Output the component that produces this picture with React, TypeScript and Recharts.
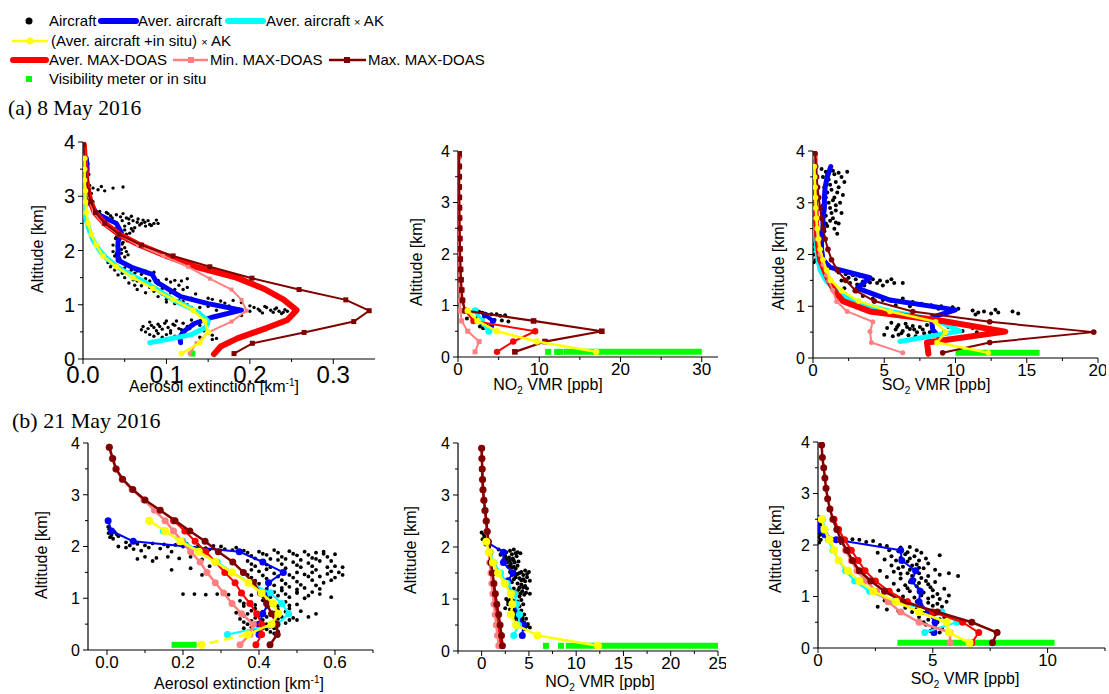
import React from 'react';
import { ScatterChart, Scatter, XAxis, YAxis } from 'recharts';

type Pt = [number, number];

const SANS = '"Liberation Sans", Arial, sans-serif';
const SERIF = '"Liberation Serif", "Times New Roman", serif';

const BLUE = '#0000FF';
const CYAN = '#00FFFF';
const YELLOW = '#FFFF00';
const RED = '#FF0000';
const PINK = '#FF8080';
const DARKRED = '#800000';
const GREEN = '#00FF00';

const Y_TICKS = [0, 0.5, 1, 1.5, 2, 2.5, 3, 3.5, 4];
const Y_MAJOR = [0, 1, 2, 3, 4];

// ---------- (a) 8 May 2016 : aerosol ----------
const a1Aircraft: Pt[] = [
  [0.004, 3.65], [0.006, 3.6], [0.005, 3.5], [0.007, 3.4], [0.005, 3.3], [0.008, 3.2], [0.012, 3.15], [0.018, 3.12],
  [0.022, 3.18], [0.026, 3.1], [0.036, 3.15], [0.048, 3.17], [0.01, 3.05], [0.006, 2.95], [0.012, 2.9], [0.008, 2.85],
  [0.02, 2.72], [0.03, 2.68], [0.04, 2.66], [0.035, 2.6], [0.045, 2.62], [0.055, 2.58], [0.06, 2.55], [0.065, 2.52],
  [0.07, 2.5], [0.075, 2.45], [0.08, 2.48], [0.085, 2.5], [0.05, 2.45], [0.058, 2.4], [0.045, 2.35], [0.052, 2.3],
  [0.062, 2.42], [0.072, 2.56], [0.025, 2.55], [0.04, 2.5], [0.04, 2.25], [0.044, 2.2], [0.048, 2.15], [0.036, 2.1],
  [0.05, 2.05], [0.042, 2.0], [0.046, 1.95], [0.038, 1.9], [0.05, 1.88], [0.045, 1.82], [0.03, 1.78], [0.035, 1.74],
  [0.04, 1.7], [0.046, 1.66], [0.055, 1.6], [0.065, 1.62], [0.07, 1.56], [0.078, 1.58], [0.042, 1.55], [0.05, 1.5],
  [0.06, 1.46], [0.08, 1.44], [0.1, 1.47], [0.11, 1.45], [0.125, 1.48], [0.055, 1.4], [0.07, 1.35], [0.09, 1.38],
  [0.1, 1.32], [0.115, 1.36], [0.065, 1.28], [0.085, 1.25], [0.105, 1.22], [0.12, 1.28], [0.135, 1.2], [0.09, 1.15],
  [0.1, 1.1], [0.115, 1.08], [0.13, 1.12], [0.145, 1.05], [0.155, 1.1], [0.16, 1.0], [0.17, 1.03], [0.18, 1.08],
  [0.125, 1.0], [0.14, 0.95], [0.2, 0.98], [0.21, 0.92], [0.22, 0.95], [0.225, 0.9], [0.235, 0.88], [0.24, 0.86],
  [0.215, 0.85], [0.2, 0.88], [0.16, 0.9], [0.19, 0.8], [0.23, 0.92], [0.08, 0.68], [0.09, 0.64], [0.1, 0.7],
  [0.11, 0.62], [0.12, 0.66], [0.13, 0.72], [0.085, 0.58], [0.095, 0.55], [0.105, 0.52], [0.115, 0.56], [0.125, 0.6],
  [0.07, 0.54], [0.075, 0.5], [0.09, 0.47], [0.1, 0.45], [0.12, 0.42], [0.135, 0.48], [0.145, 0.52], [0.155, 0.44],
  [0.16, 0.38], [0.14, 0.62], [0.15, 0.65],
  [0.028, 2.7], [0.033, 2.64], [0.048, 2.68], [0.052, 2.6], [0.058, 2.63], [0.066, 2.58], [0.074, 2.52], [0.082, 2.46],
  [0.068, 2.47], [0.055, 2.5], [0.047, 2.55], [0.038, 2.4], [0.042, 2.43], [0.06, 2.36], [0.05, 2.38], [0.056, 2.32],
  [0.048, 2.28], [0.078, 2.55], [0.088, 2.56], [0.09, 2.5], [0.039, 2.22], [0.047, 2.12], [0.053, 2.18], [0.041, 2.08],
  [0.046, 2.02], [0.052, 1.98], [0.04, 1.94], [0.044, 1.86], [0.054, 1.92], [0.036, 1.98], [0.033, 1.7], [0.038, 1.64],
  [0.05, 1.68], [0.058, 1.64], [0.062, 1.58], [0.075, 1.62], [0.085, 1.6], [0.047, 1.58], [0.065, 1.44], [0.075, 1.48],
  [0.09, 1.45], [0.105, 1.42], [0.118, 1.44], [0.062, 1.36], [0.08, 1.32], [0.095, 1.3], [0.11, 1.28], [0.125, 1.32],
  [0.075, 1.22], [0.095, 1.2], [0.115, 1.18], [0.1, 1.05], [0.11, 1.02], [0.12, 1.06], [0.135, 1.08], [0.15, 1.12],
  [0.165, 1.07], [0.175, 0.98], [0.19, 1.04], [0.13, 0.95], [0.15, 0.97], [0.205, 0.95], [0.212, 0.89], [0.218, 0.97],
  [0.228, 0.86], [0.232, 0.94], [0.242, 0.91], [0.245, 0.88], [0.238, 0.84], [0.082, 0.62], [0.088, 0.52], [0.092, 0.6],
  [0.098, 0.66], [0.102, 0.58], [0.108, 0.64], [0.112, 0.7], [0.118, 0.54], [0.122, 0.5], [0.128, 0.56], [0.132, 0.62],
  [0.08, 0.45], [0.085, 0.42], [0.095, 0.4], [0.105, 0.48], [0.11, 0.42], [0.13, 0.45], [0.14, 0.4], [0.15, 0.48],
  [0.155, 0.36], [0.072, 0.6], [0.078, 0.56],
];
const a1Blue: Pt[] = [
  [0.004, 3.7], [0.005, 3.5], [0.004, 3.3], [0.006, 3.1], [0.008, 2.9], [0.016, 2.68], [0.04, 2.5], [0.046, 2.33],
  [0.042, 2.16], [0.042, 1.82], [0.06, 1.68], [0.083, 1.56], [0.088, 1.42], [0.117, 1.15], [0.15, 1.02], [0.19, 0.9],
  [0.155, 0.77], [0.133, 0.65], [0.12, 0.5], [0.116, 0.4], [0.117, 0.3],
];
const a1Cyan: Pt[] = [
  [0.003, 3.7], [0.003, 3.3], [0.003, 2.9], [0.002, 2.75], [0.004, 2.55], [0.008, 2.35], [0.012, 2.19], [0.02, 2.0],
  [0.028, 1.86], [0.044, 1.67], [0.06, 1.53], [0.076, 1.4], [0.092, 1.25], [0.108, 1.09], [0.125, 0.97], [0.138, 0.86],
  [0.15, 0.7], [0.147, 0.58], [0.13, 0.45], [0.1, 0.36], [0.08, 0.3],
];
const a1Yellow: Pt[] = [
  [0.002, 3.7], [0.002, 3.5], [0.002, 3.3], [0.003, 3.1], [0.003, 2.9], [0.004, 2.7], [0.006, 2.5], [0.01, 2.3],
  [0.016, 2.1], [0.024, 1.9], [0.04, 1.7], [0.06, 1.5], [0.084, 1.3], [0.108, 1.1], [0.132, 0.9], [0.146, 0.7],
  [0.15, 0.5], [0.14, 0.3], [0.118, 0.1],
];
const a1Red: Pt[] = [
  [0.001, 3.95], [0.002, 3.7], [0.003, 3.5], [0.004, 3.3], [0.006, 3.1], [0.009, 2.9], [0.014, 2.7], [0.026, 2.5],
  [0.043, 2.3], [0.068, 2.1], [0.1, 1.9], [0.135, 1.7], [0.184, 1.5], [0.216, 1.3], [0.24, 1.1], [0.256, 0.9],
  [0.245, 0.72], [0.22, 0.57], [0.185, 0.38], [0.165, 0.23], [0.157, 0.09],
];
const a1Pink: Pt[] = [
  [0.001, 3.95], [0.002, 3.7], [0.003, 3.5], [0.004, 3.3], [0.005, 3.1], [0.008, 2.9], [0.013, 2.7], [0.024, 2.5],
  [0.042, 2.3], [0.066, 2.1], [0.096, 1.9], [0.126, 1.7], [0.152, 1.48], [0.178, 1.28], [0.19, 1.09], [0.196, 0.89],
  [0.178, 0.69], [0.15, 0.49], [0.136, 0.29], [0.128, 0.1],
];
const a1DarkRed: Pt[] = [
  [0.0005, 3.95], [0.002, 3.7], [0.003, 3.5], [0.004, 3.3], [0.006, 3.1], [0.009, 2.9], [0.015, 2.7], [0.026, 2.5],
  [0.043, 2.3], [0.07, 2.1], [0.108, 1.9], [0.152, 1.7], [0.2025, 1.49], [0.259, 1.28], [0.315, 1.09], [0.343, 0.89],
  [0.3245, 0.69], [0.265, 0.49], [0.203, 0.29], [0.181, 0.1],
];
const a1Green: Pt[] = [[0.131, 0.1]];

// ---------- (a) NO2 ----------
const a2Aircraft: Pt[] = [
  [2.3, 0.91], [2.6, 0.88], [3.0, 0.86], [3.4, 0.84], [4.1, 0.83], [4.75, 0.83], [5.2, 0.8], [5.8, 0.81], [1.1, 0.75],
  [1.9, 0.72], [2.4, 0.76], [3.2, 0.78], [4.5, 0.72], [5.4, 0.71], [6.2, 0.69], [2.7, 0.59], [3.1, 0.56], [3.9, 0.52],
  [3.5, 0.62], [4.2, 0.6], [2.9, 0.66],
];
const a2Blue: Pt[] = [[3.3, 0.82], [4.3, 0.7], [4.0, 0.58]];
const a2Cyan: Pt[] = [[2.1, 0.9], [2.9, 0.7], [3.8, 0.5]];
const a2Yellow: Pt[] = [[1.2, 0.9], [2.4, 0.7], [4.8, 0.5], [9.7, 0.3], [17.0, 0.1]];
const a2Red: Pt[] = [
  [0.12, 3.9], [0.12, 3.7], [0.12, 3.5], [0.12, 3.3], [0.13, 3.1], [0.14, 2.9], [0.15, 2.7], [0.16, 2.5], [0.18, 2.3],
  [0.2, 2.1], [0.22, 1.9], [0.25, 1.7], [0.3, 1.5], [0.4, 1.3], [0.5, 1.1], [0.9, 0.9], [1.9, 0.7], [9.5, 0.5],
  [6.8, 0.3], [4.8, 0.1],
];
const a2Pink: Pt[] = [
  [0.1, 3.9], [0.1, 3.5], [0.1, 3.1], [0.12, 2.7], [0.14, 2.3], [0.16, 1.9], [0.18, 1.5], [0.2, 1.3], [0.25, 1.1],
  [0.3, 0.9], [0.45, 0.7], [1.2, 0.5], [2.6, 0.3], [2.1, 0.1],
];
const a2DarkRed: Pt[] = [
  [0.15, 3.95], [0.15, 3.7], [0.15, 3.5], [0.15, 3.3], [0.16, 3.1], [0.17, 2.9], [0.18, 2.7], [0.2, 2.5], [0.22, 2.3],
  [0.25, 2.1], [0.28, 1.9], [0.32, 1.7], [0.37, 1.5], [0.45, 1.3], [0.55, 1.1], [0.86, 0.9], [9.3, 0.7], [17.7, 0.5],
  [10.7, 0.3], [7.0, 0.1],
];
const a2GreenDots: Pt[] = [[11.1, 0.1], [12.2, 0.1], [12.6, 0.1]];
const a2GreenBar: Pt[] = [[13.0, 0.1], [30.0, 0.1]];

// ---------- (a) SO2 ----------
const a3Aircraft: Pt[] = [
  [0.6, 3.65], [0.9, 3.6], [1.4, 3.62], [1.8, 3.58], [2.4, 3.6], [0.7, 3.5], [1.1, 3.45], [1.6, 3.4], [2.0, 3.5],
  [0.8, 3.3], [1.3, 3.25], [1.7, 3.2], [2.1, 3.15], [0.9, 3.1], [1.4, 3.05], [1.9, 3.0], [0.7, 2.95], [1.2, 2.9],
  [1.6, 2.85], [2.0, 2.8], [0.9, 2.75], [1.4, 2.7], [1.8, 2.6], [1.0, 2.55], [1.5, 2.5], [0.8, 2.45], [1.7, 2.4],
  [0.1, 2.2], [0.15, 2.1], [0.1, 2.0], [0.2, 1.9], [0.05, 1.85], [1.8, 1.65], [2.3, 1.62], [2.8, 1.6], [3.3, 1.58],
  [3.8, 1.55], [4.2, 1.52], [4.7, 1.5], [5.2, 1.48], [5.7, 1.45], [6.3, 1.45], [2.0, 1.5], [2.6, 1.45], [3.1, 1.42],
  [3.6, 1.4], [4.5, 1.45], [4.9, 1.4], [2.2, 1.35], [2.9, 1.3], [3.5, 1.2], [4.2, 1.15], [4.9, 1.12], [5.5, 1.1],
  [6.3, 1.15], [7.0, 1.08], [7.6, 1.05], [8.3, 1.02], [9.0, 1.0], [9.8, 0.98], [10.2, 0.95], [8.8, 0.95], [6.8, 1.0],
  [5.8, 1.02], [11.2, 0.92], [11.6, 0.88], [12.0, 0.9], [12.5, 0.86], [13.0, 0.88], [14.0, 0.9], [14.4, 0.86],
  [11.4, 0.84], [12.8, 0.93], [5.5, 0.68], [6.0, 0.64], [6.5, 0.66], [7.0, 0.62], [7.5, 0.6], [8.0, 0.64], [8.4, 0.58],
  [5.2, 0.58], [5.8, 0.55], [6.3, 0.52], [6.8, 0.56], [7.3, 0.5], [7.8, 0.48], [5.0, 0.45], [5.6, 0.42], [6.2, 0.48],
  [6.7, 0.44], [7.2, 0.42], [10.2, 0.66], [10.8, 0.62], [11.2, 0.58], [11.7, 0.6], [12.1, 0.55], [10.5, 0.52],
  [11.5, 0.5], [12.3, 0.52], [9.5, 0.6], [9.2, 0.52],
  [1.0, 3.55], [1.5, 3.55], [2.2, 3.4], [1.2, 3.35], [1.8, 3.3], [1.0, 3.2], [1.5, 3.1], [1.1, 3.0], [1.6, 2.95],
  [1.3, 2.8], [1.2, 2.65], [1.6, 2.62], [0.9, 2.6], [2.5, 1.55], [3.0, 1.52], [3.5, 1.48], [4.0, 1.46], [5.5, 1.52],
  [5.9, 0.6], [6.6, 0.6], [7.1, 0.55], [7.7, 0.55], [8.2, 0.5], [6.0, 0.45],
];
const a3Blue: Pt[] = [
  [1.25, 3.7], [1.0, 3.5], [0.85, 3.3], [0.8, 3.1], [0.8, 2.9], [0.7, 2.7], [0.7, 2.5], [0.6, 2.3], [0.6, 2.1],
  [0.7, 1.9], [1.2, 1.75], [4.0, 1.55], [3.1, 1.35], [5.4, 1.12], [10.0, 0.93], [8.3, 0.78], [8.4, 0.55], [9.0, 0.35],
];
const a3Cyan: Pt[] = [
  [0.1, 3.7], [0.12, 3.3], [0.15, 2.9], [0.18, 2.5], [0.25, 2.1], [0.35, 1.9], [0.5, 1.7], [0.9, 1.5], [1.9, 1.22],
  [3.3, 1.05], [5.6, 0.89], [8.7, 0.73], [10.3, 0.52], [6.1, 0.32],
];
const a3Yellow: Pt[] = [
  [0.1, 3.7], [0.12, 3.5], [0.15, 3.3], [0.18, 3.1], [0.2, 2.9], [0.25, 2.7], [0.3, 2.5], [0.4, 2.3], [0.5, 2.1],
  [0.7, 1.9], [0.95, 1.7], [1.25, 1.5], [2.0, 1.3], [3.2, 1.1], [5.4, 0.9], [8.6, 0.7], [9.3, 0.5], [8.7, 0.3],
  [12.3, 0.1],
];
const a3Red: Pt[] = [
  [0.1, 3.95], [0.12, 3.5], [0.15, 3.0], [0.22, 2.6], [0.35, 2.2], [0.5, 1.9], [0.8, 1.7], [1.1, 1.5], [1.5, 1.3],
  [2.1, 1.1], [4.0, 0.9], [9.0, 0.72], [13.5, 0.51], [8.0, 0.3], [8.1, 0.08],
];
const a3Pink: Pt[] = [
  [0.1, 3.9], [0.12, 3.5], [0.15, 3.1], [0.2, 2.7], [0.3, 2.3], [0.5, 2.0], [0.7, 1.8], [0.95, 1.6], [1.1, 1.5],
  [1.38, 1.31], [1.66, 1.09], [2.4, 0.9], [4.2, 0.7], [4.0, 0.51], [4.1, 0.3], [6.3, 0.1],
];
const a3DarkRed: Pt[] = [
  [0.15, 3.95], [0.19, 3.7], [0.25, 3.5], [0.32, 3.3], [0.4, 3.1], [0.5, 2.9], [0.6, 2.7], [0.72, 2.5], [0.85, 2.3],
  [1.05, 2.1], [1.3, 1.9], [1.7, 1.7], [2.3, 1.5], [3.0, 1.3], [4.3, 1.1], [7.0, 0.9], [12.4, 0.7], [19.7, 0.5],
  [12.4, 0.3], [9.1, 0.1],
];
const a3GreenBar: Pt[] = [[10.0, 0.1], [15.9, 0.1]];

// ---------- (b) 21 May 2016 : aerosol ----------
const b1Aircraft: Pt[] = [
  [0.003, 2.38], [0.006, 2.33], [0.01, 2.3], [0.004, 2.26], [0.012, 2.22], [0.02, 2.28], [0.025, 2.24], [0.008, 2.18],
  [0.016, 2.15], [0.03, 2.2], [0.05, 2.08], [0.08, 2.05], [0.1, 2.02], [0.12, 2.06], [0.15, 2.04], [0.18, 2.03],
  [0.2, 2.0], [0.23, 1.98], [0.26, 1.97], [0.28, 2.01], [0.31, 1.95], [0.33, 1.93], [0.05, 1.98], [0.07, 1.95],
  [0.09, 1.92], [0.03, 2.0], [0.14, 1.96], [0.17, 1.9], [0.1, 1.8], [0.13, 1.78], [0.16, 1.8], [0.19, 1.77],
  [0.22, 1.8], [0.25, 1.75], [0.12, 1.72], [0.08, 1.76], [0.17, 1.55], [0.22, 1.58], [0.27, 1.62], [0.36, 1.92],
  [0.4, 1.9], [0.44, 1.93], [0.48, 1.91], [0.52, 1.9], [0.55, 1.88], [0.57, 1.86], [0.38, 1.82], [0.42, 1.84],
  [0.46, 1.8], [0.5, 1.83], [0.54, 1.78], [0.58, 1.8], [0.37, 1.72], [0.41, 1.7], [0.45, 1.74], [0.49, 1.7],
  [0.53, 1.68], [0.56, 1.72], [0.6, 1.62], [0.39, 1.62], [0.43, 1.6], [0.47, 1.58], [0.51, 1.6], [0.55, 1.55],
  [0.59, 1.52], [0.62, 1.45], [0.36, 1.5], [0.4, 1.52], [0.44, 1.48], [0.48, 1.45], [0.52, 1.46], [0.56, 1.42],
  [0.6, 1.4], [0.38, 1.4], [0.42, 1.38], [0.46, 1.35], [0.5, 1.32], [0.54, 1.35], [0.57, 1.3], [0.4, 1.28],
  [0.44, 1.25], [0.48, 1.22], [0.52, 1.2], [0.2, 1.08], [0.23, 1.08], [0.26, 1.07], [0.29, 1.08], [0.32, 1.07],
  [0.35, 1.08], [0.38, 1.06], [0.41, 1.1], [0.44, 1.12], [0.47, 1.08], [0.5, 1.1], [0.53, 1.05], [0.56, 1.08],
  [0.59, 1.02], [0.46, 1.15], [0.5, 1.17], [0.43, 1.02], [0.52, 1.0], [0.35, 0.95], [0.38, 0.92], [0.41, 0.96],
  [0.44, 0.9], [0.47, 0.93], [0.5, 0.88], [0.36, 0.85], [0.39, 0.8], [0.42, 0.83], [0.45, 0.78], [0.48, 0.8],
  [0.51, 0.75], [0.34, 0.72], [0.37, 0.7], [0.4, 0.66], [0.43, 0.7], [0.46, 0.64], [0.49, 0.62], [0.35, 0.6],
  [0.38, 0.56], [0.41, 0.58], [0.44, 0.55], [0.47, 0.52], [0.37, 0.5], [0.4, 0.47], [0.43, 0.45], [0.5, 0.58],
  [0.53, 0.64], [0.55, 0.7], [0.36, 0.42], [0.39, 0.38], [0.42, 0.4], [0.45, 0.36], [0.38, 0.33], [0.41, 0.3],
  [0.44, 0.32], [0.25, 1.45],
  [0.37, 1.88], [0.41, 1.86], [0.45, 1.88], [0.49, 1.86], [0.53, 1.84], [0.57, 1.9], [0.6, 1.85], [0.39, 1.77],
  [0.43, 1.76], [0.47, 1.76], [0.51, 1.74], [0.55, 1.76], [0.59, 1.72], [0.62, 1.6], [0.38, 1.66], [0.42, 1.65],
  [0.46, 1.66], [0.5, 1.64], [0.54, 1.62], [0.58, 1.6], [0.61, 1.5], [0.38, 1.55], [0.42, 1.56], [0.46, 1.52],
  [0.5, 1.5], [0.54, 1.5], [0.58, 1.47], [0.37, 1.45], [0.41, 1.44], [0.45, 1.42], [0.49, 1.4], [0.53, 1.42],
  [0.59, 1.35], [0.39, 1.34], [0.43, 1.32], [0.47, 1.28], [0.51, 1.26], [0.55, 1.25], [0.42, 1.18], [0.46, 1.2],
  [0.5, 1.12], [0.54, 1.12], [0.56, 1.18], [0.45, 1.05], [0.48, 1.02], [0.36, 0.9], [0.39, 0.87], [0.42, 0.88],
  [0.45, 0.85], [0.48, 0.86], [0.38, 0.76], [0.41, 0.74], [0.44, 0.72], [0.47, 0.74], [0.36, 0.66], [0.39, 0.62],
  [0.42, 0.64], [0.45, 0.6], [0.48, 0.58], [0.36, 0.54], [0.39, 0.52], [0.42, 0.5], [0.45, 0.48], [0.38, 0.44],
  [0.41, 0.42], [0.44, 0.42], [0.4, 0.36], [0.43, 0.35], [0.06, 2.02], [0.11, 1.98], [0.16, 2.0], [0.21, 2.05],
  [0.24, 2.02], [0.27, 1.94], [0.3, 2.0], [0.34, 1.98],
];
const b1Blue: Pt[] = [
  [0.003, 2.5], [0.012, 2.3], [0.069, 2.1], [0.348, 1.9], [0.41, 1.7], [0.464, 1.5], [0.425, 1.3], [0.42, 1.1],
  [0.425, 0.9], [0.41, 0.7], [0.4, 0.5], [0.4, 0.3],
];
const b1Cyan: Pt[] = [
  [0.148, 2.3], [0.2, 2.1], [0.245, 1.9], [0.29, 1.7], [0.33, 1.5], [0.375, 1.3], [0.43, 1.1], [0.46, 0.9],
  [0.478, 0.7], [0.448, 0.5], [0.317, 0.3],
];
const b1Yellow: Pt[] = [
  [0.111, 2.5], [0.153, 2.3], [0.193, 2.1], [0.241, 1.9], [0.285, 1.7], [0.329, 1.5], [0.372, 1.3], [0.407, 1.1],
  [0.437, 0.9], [0.451, 0.7], [0.433, 0.5], [0.37, 0.3],
];
const b1YellowDash: Pt[] = [[0.37, 0.3], [0.249, 0.1]];
const b1Red: Pt[] = [
  [0.175, 2.5], [0.205, 2.3], [0.232, 2.1], [0.26, 1.9], [0.285, 1.7], [0.31, 1.5], [0.337, 1.3], [0.354, 1.1],
  [0.376, 0.9], [0.394, 0.7], [0.407, 0.5], [0.407, 0.3], [0.392, 0.1],
];
const b1Pink: Pt[] = [
  [0.006, 3.92], [0.014, 3.7], [0.023, 3.5], [0.04, 3.3], [0.066, 3.1], [0.097, 2.9], [0.125, 2.7], [0.153, 2.5],
  [0.175, 2.3], [0.198, 2.1], [0.22, 1.9], [0.245, 1.7], [0.263, 1.5], [0.285, 1.3], [0.307, 1.1], [0.329, 0.9],
  [0.354, 0.7], [0.385, 0.5], [0.376, 0.3], [0.35, 0.1],
];
const b1DarkRed: Pt[] = [
  [0.006, 3.92], [0.015, 3.7], [0.024, 3.5], [0.041, 3.3], [0.068, 3.1], [0.1, 2.9], [0.14, 2.7], [0.179, 2.5],
  [0.218, 2.3], [0.258, 2.1], [0.293, 1.9], [0.331, 1.7], [0.359, 1.5], [0.385, 1.3], [0.404, 1.1], [0.42, 0.9],
  [0.433, 0.7], [0.447, 0.5], [0.448, 0.3], [0.429, 0.1],
];
const b1GreenBar: Pt[] = [[0.17, 0.1], [0.236, 0.1]];

// ---------- (b) NO2 ----------
const b2Aircraft: Pt[] = [
  [0.0, 2.28], [0.2, 2.25], [0.3, 2.2], [0.1, 2.15], [0.4, 2.05], [0.6, 2.1], [0.8, 2.0], [1.8, 1.95], [2.2, 1.92],
  [2.6, 1.9], [3.0, 1.93], [3.4, 1.95], [3.8, 1.9], [4.1, 1.88], [2.0, 1.85], [2.5, 1.82], [2.9, 1.8], [3.3, 1.78],
  [3.7, 1.82], [2.3, 1.75], [2.7, 1.7], [3.1, 1.68], [3.5, 1.7], [3.9, 1.72], [2.8, 1.62], [3.2, 1.6], [3.6, 1.58],
  [3.0, 1.52], [3.4, 1.5], [3.8, 1.48], [4.2, 1.52], [4.6, 1.55], [5.0, 1.52], [3.6, 1.42], [4.0, 1.4], [4.4, 1.38],
  [4.8, 1.42], [5.1, 1.35], [3.2, 1.32], [3.8, 1.3], [4.2, 1.28], [4.6, 1.25], [3.4, 1.2], [3.9, 1.18], [4.3, 1.15],
  [4.7, 1.12], [5.1, 1.1], [3.6, 1.08], [4.0, 1.05], [2.6, 1.0], [3.0, 0.98], [3.4, 0.96], [3.8, 0.95], [4.2, 0.98],
  [2.8, 0.9], [3.2, 0.88], [3.6, 0.85], [4.0, 0.86], [4.4, 0.9], [2.5, 0.82], [3.0, 0.8], [3.4, 0.78], [3.8, 0.75],
  [4.2, 0.78], [2.9, 0.7], [3.3, 0.68], [3.7, 0.65], [4.1, 0.68], [4.5, 0.7], [3.5, 0.6], [3.9, 0.58], [4.3, 0.6],
  [4.7, 0.62], [4.0, 0.52], [4.4, 0.5], [4.8, 0.48], [5.1, 0.45], [4.6, 0.42], [4.3, 0.46],
  [2.1, 1.88], [2.4, 1.86], [3.2, 1.86], [3.6, 1.88], [2.6, 1.76], [3.0, 1.74], [3.4, 1.74], [3.0, 1.64], [3.4, 1.62],
  [3.8, 1.64], [3.2, 1.46], [3.6, 1.48], [4.0, 1.5], [4.4, 1.46], [4.8, 1.48], [3.4, 1.38], [4.2, 1.36], [4.6, 1.34],
  [4.0, 1.22], [4.4, 1.22], [4.8, 1.2], [3.7, 1.14], [4.1, 1.1], [4.5, 1.08], [2.8, 0.95], [3.2, 0.92], [3.8, 0.9],
  [3.3, 0.84], [3.6, 0.72], [4.0, 0.74], [4.3, 0.64], [4.5, 0.55], [4.2, 0.54], [4.9, 0.52],
];
const b2Blue: Pt[] = [
  [0.5, 2.1], [2.3, 1.9], [2.3, 1.7], [3.3, 1.5], [2.8, 1.35], [3.1, 1.1], [3.4, 0.9], [3.8, 0.7], [4.4, 0.5], [4.3, 0.3],
];
const b2Cyan: Pt[] = [
  [0.5, 2.1], [0.9, 1.9], [1.3, 1.7], [2.0, 1.5], [2.7, 1.3], [3.5, 1.1], [3.7, 0.9], [4.0, 0.7], [3.9, 0.5], [3.4, 0.3],
];
const b2Yellow: Pt[] = [
  [0.49, 2.1], [0.78, 1.9], [1.2, 1.7], [1.74, 1.5], [2.45, 1.3], [3.1, 1.1], [3.25, 0.9], [3.1, 0.7], [3.65, 0.5],
  [5.9, 0.3], [12.3, 0.1],
];
const b2Red: Pt[] = [
  [0.0, 3.9], [0.03, 3.7], [0.05, 3.5], [0.09, 3.3], [0.13, 3.1], [0.22, 2.9], [0.33, 2.7], [0.46, 2.5], [0.56, 2.3],
  [0.67, 2.1], [0.78, 1.9], [0.9, 1.7], [1.05, 1.5], [1.18, 1.3], [1.3, 1.1], [1.43, 0.9], [1.6, 0.7], [1.73, 0.5],
  [1.88, 0.3], [2.0, 0.1],
];
const b2Pink: Pt[] = [
  [0.0, 3.9], [0.03, 3.7], [0.05, 3.5], [0.08, 3.3], [0.12, 3.1], [0.2, 2.9], [0.3, 2.7], [0.42, 2.5], [0.52, 2.3],
  [0.62, 2.1], [0.72, 1.9], [0.82, 1.7], [0.95, 1.5], [1.05, 1.3], [1.15, 1.1], [1.27, 0.9], [1.4, 0.7], [1.52, 0.5],
  [1.65, 0.3], [1.78, 0.1],
];
const b2DarkRed: Pt[] = [
  [0.0, 3.9], [0.03, 3.7], [0.06, 3.5], [0.1, 3.3], [0.15, 3.1], [0.25, 2.9], [0.37, 2.7], [0.5, 2.5], [0.6, 2.3],
  [0.72, 2.1], [0.85, 1.9], [0.98, 1.7], [1.15, 1.5], [1.3, 1.3], [1.45, 1.1], [1.6, 0.9], [1.8, 0.7], [1.95, 0.5],
  [2.1, 0.3], [2.2, 0.1],
];
const b2GreenDots: Pt[] = [[6.8, 0.1], [8.4, 0.1]];
const b2GreenBar: Pt[] = [[8.9, 0.1], [25.0, 0.1]];

// ---------- (b) SO2 ----------
const b3Aircraft: Pt[] = [
  [0.0, 2.55], [0.05, 2.45], [0.1, 2.4], [0.0, 2.35], [0.15, 2.3], [0.05, 2.25], [0.1, 2.2], [0.0, 2.15], [0.12, 2.1],
  [0.05, 2.05], [0.6, 2.12], [0.9, 2.1], [1.2, 2.12], [1.5, 2.11], [1.8, 2.1], [2.1, 2.06], [2.4, 2.08], [2.7, 2.0],
  [3.0, 1.98], [1.0, 2.04], [2.6, 1.85], [3.1, 1.9], [3.6, 1.95], [4.0, 1.96], [4.3, 1.9], [5.3, 1.8], [3.8, 1.82],
  [4.2, 1.78], [2.9, 1.72], [3.4, 1.7], [3.9, 1.68], [4.4, 1.7], [4.7, 1.74], [3.2, 1.6], [3.7, 1.58], [4.1, 1.6],
  [4.6, 1.55], [5.1, 1.52], [2.7, 1.5], [3.3, 1.48], [3.9, 1.45], [4.4, 1.45], [4.8, 1.4], [5.3, 1.42], [6.1, 1.4],
  [5.7, 1.45], [3.0, 1.38], [3.6, 1.35], [4.2, 1.32], [4.7, 1.3], [5.1, 1.28], [3.3, 1.25], [3.8, 1.22], [4.3, 1.2],
  [4.9, 1.18], [5.5, 1.15], [3.5, 1.12], [4.0, 1.1], [4.6, 1.08], [5.2, 1.05], [5.7, 1.02], [3.7, 1.0], [4.2, 0.98],
  [4.8, 0.96], [5.3, 0.95], [5.6, 0.9], [2.9, 0.92], [3.3, 0.88], [4.0, 0.86], [4.5, 0.84], [5.0, 0.82], [5.4, 0.8],
  [2.6, 0.8], [3.0, 0.75], [3.5, 0.72], [4.1, 0.7], [4.6, 0.68], [5.1, 0.66], [5.5, 0.6], [4.4, 0.6], [4.8, 0.55],
  [5.2, 0.5], [4.7, 0.45], [5.0, 0.4], [5.4, 0.38], [4.9, 0.33], [5.3, 0.3],
  [3.5, 1.88], [3.9, 1.86], [4.5, 1.85], [3.2, 1.78], [3.6, 1.75], [4.0, 1.74], [4.8, 1.64], [4.3, 1.62], [3.5, 1.55],
  [4.0, 1.52], [4.4, 1.56], [3.6, 1.44], [4.1, 1.4], [4.5, 1.36], [4.0, 1.28], [4.4, 1.26], [4.8, 1.24], [3.9, 1.16],
  [4.4, 1.14], [5.0, 1.12], [4.5, 1.02], [5.0, 1.0], [3.9, 0.92], [4.3, 0.9], [4.8, 0.88], [5.2, 0.86], [3.8, 0.78],
  [4.3, 0.76], [4.9, 0.72], [5.3, 0.7], [5.0, 0.6], [5.3, 0.56], [4.6, 0.5], [5.1, 0.44],
];
const b3Blue: Pt[] = [
  [0.0, 2.5], [0.0, 2.3], [0.3, 2.2], [0.8, 2.1], [3.6, 1.9], [3.65, 1.7], [4.25, 1.5], [4.1, 1.3], [4.45, 1.1],
  [4.4, 0.9], [4.8, 0.7], [5.1, 0.5], [5.05, 0.3],
];
const b3Cyan: Pt[] = [
  [0.2, 2.5], [0.3, 2.3], [0.45, 2.1], [0.65, 1.9], [0.9, 1.7], [1.2, 1.5], [1.6, 1.3], [2.25, 1.1], [3.3, 0.9],
  [5.4, 0.7], [6.05, 0.5], [4.65, 0.3],
];
const b3Yellow: Pt[] = [
  [0.16, 2.5], [0.28, 2.3], [0.5, 2.1], [0.7, 1.9], [0.9, 1.7], [1.3, 1.5], [1.8, 1.3], [2.4, 1.1], [3.4, 0.9],
  [4.4, 0.7], [5.6, 0.5], [5.7, 0.3], [6.6, 0.1],
];
const b3Red: Pt[] = [
  [0.7, 2.5], [0.9, 2.3], [1.15, 2.1], [1.45, 1.9], [1.75, 1.7], [2.05, 1.5], [2.5, 1.3], [3.1, 1.1], [3.9, 0.9],
  [5.0, 0.7], [6.3, 0.5], [7.0, 0.3], [6.7, 0.1],
];
const b3Pink: Pt[] = [
  [1.0, 2.1], [1.2, 1.9], [1.45, 1.7], [1.7, 1.5], [2.1, 1.3], [2.55, 1.1], [3.05, 0.9], [3.6, 0.7], [4.4, 0.5],
  [5.75, 0.3], [5.75, 0.1],
];
const b3DarkRed: Pt[] = [
  [0.16, 3.94], [0.19, 3.7], [0.25, 3.5], [0.3, 3.3], [0.35, 3.1], [0.42, 2.9], [0.52, 2.7], [0.65, 2.5], [0.82, 2.3],
  [1.0, 2.1], [1.25, 1.9], [1.5, 1.7], [1.8, 1.5], [2.3, 1.3], [2.9, 1.1], [3.7, 0.9], [5.2, 0.7], [6.7, 0.5],
  [7.8, 0.3], [7.6, 0.1],
];
const b3GreenBar: Pt[] = [[3.46, 0.1], [10.3, 0.1]];

type Series = {
  data: Pt[];
  color: string;
  lw?: number; // line width, no line if absent
  mk?: 'c' | 's' | 'n';
  ms?: number; // marker radius / half-size
  dash?: string;
  cap?: 'round' | 'butt';
};

const markerShape = (s: Series) => (p: any) => {
  if (p.cx == null || p.cy == null) return <g />;
  const r = s.ms ?? 3;
  if (s.mk === 's') return <rect x={p.cx - r} y={p.cy - r} width={r * 2} height={r * 2} fill={s.color} />;
  if (s.mk === 'n') return <g />;
  return <circle cx={p.cx} cy={p.cy} r={r} fill={s.color} />;
};

const rows = (pts: Pt[]) => pts.map(([x, y]) => ({ x, y }));

const isMajor = (v: number, majors: number[]) => majors.some((m) => Math.abs(m - v) < 1e-9);

type PanelProps = {
  left: number;
  top: number;
  w: number;
  h: number;
  xDomain: [number, number];
  xTicks: number[];
  xMajor: number[];
  fmt: (v: number) => string;
  xFont: number;
  yFont: number;
  series: Series[];
};

const ML = 70;
const MT = 12;
const MR = 8;
const MB = 50;

function Panel({ left, top, w, h, xDomain, xTicks, xMajor, fmt, xFont, yFont, series }: PanelProps) {
  return (
    <div style={{ position: 'absolute', left: left - ML, top: top - MT }}>
      <ScatterChart width={w + ML + MR} height={h + MT + MB} margin={{ top: MT, right: MR, left: 0, bottom: 0 }}>
        <XAxis
          type="number"
          dataKey="x"
          domain={xDomain}
          ticks={xTicks}
          interval={0}
          height={MB}
          tickSize={0}
          tickMargin={0}
          allowDataOverflow
          axisLine={{ stroke: '#000', strokeWidth: 1.2 }}
          tick={(p: any) => {
            const v = p.payload.value;
            const major = isMajor(v, xMajor);
            return (
              <g>
                <line x1={p.x} y1={p.y} x2={p.x} y2={p.y + (major ? 5 : 3)} stroke="#000" />
                {major && (
                  <text x={p.x} y={p.y + 5 + xFont * 0.78} textAnchor="middle" fontSize={xFont} fontFamily={SANS} fill="#000">
                    {fmt(v)}
                  </text>
                )}
              </g>
            );
          }}
        />
        <YAxis
          type="number"
          dataKey="y"
          domain={[0, 4]}
          ticks={Y_TICKS}
          interval={0}
          width={ML}
          tickSize={0}
          tickMargin={0}
          allowDataOverflow
          axisLine={{ stroke: '#000', strokeWidth: 1.2 }}
          tick={(p: any) => {
            const v = p.payload.value;
            const major = isMajor(v, Y_MAJOR);
            return (
              <g>
                <line x1={p.x} y1={p.y} x2={p.x - (major ? 5 : 3)} y2={p.y} stroke="#000" />
                {major && (
                  <text x={p.x - 8} y={p.y + yFont * 0.36} textAnchor="end" fontSize={yFont} fontFamily={SANS} fill="#000">
                    {String(v)}
                  </text>
                )}
              </g>
            );
          }}
        />
        {series.map((s, i) => (
          <Scatter
            key={i}
            data={rows(s.data)}
            fill={s.color}
            lineType="joint"
            line={
              s.lw
                ? {
                    stroke: s.color,
                    strokeWidth: s.lw,
                    strokeDasharray: s.dash,
                    strokeLinejoin: 'round',
                    strokeLinecap: s.cap ?? 'round',
                  }
                : false
            }
            shape={markerShape(s)}
            isAnimationActive={false}
          />
        ))}
      </ScatterChart>
    </div>
  );
}

const dots = (data: Pt[], r = 1.6): Series => ({ data, color: '#000', mk: 'c', ms: r });
const greenBar = (data: Pt[], lw = 6): Series => ({ data, color: GREEN, lw, mk: 'n', cap: 'butt' });
const greenDots = (data: Pt[]): Series => ({ data, color: GREEN, mk: 's', ms: 3 });

const a1Series: Series[] = [
  dots(a1Aircraft, 1.7),
  greenDots(a1Green),
  { data: a1Blue, color: BLUE, lw: 5, mk: 'n' },
  { data: a1Cyan, color: CYAN, lw: 5, mk: 'n' },
  { data: a1Red, color: RED, lw: 6, mk: 'n' },
  { data: a1Pink, color: PINK, lw: 2, mk: 's', ms: 2 },
  { data: a1DarkRed, color: DARKRED, lw: 2, mk: 's', ms: 2.5 },
  { data: a1Yellow, color: YELLOW, lw: 2.5, mk: 'c', ms: 2.8 },
];
const a2Series: Series[] = [
  dots(a2Aircraft, 2),
  greenDots(a2GreenDots),
  greenBar(a2GreenBar),
  { data: a2Blue, color: BLUE, lw: 4, mk: 'c', ms: 3 },
  { data: a2Cyan, color: CYAN, lw: 4, mk: 'c', ms: 3.5 },
  { data: a2Red, color: RED, lw: 2, mk: 'c', ms: 3.2 },
  { data: a2Pink, color: PINK, lw: 2, mk: 's', ms: 2.5 },
  { data: a2DarkRed, color: DARKRED, lw: 2.2, mk: 's', ms: 2.8 },
  { data: a2Yellow, color: YELLOW, lw: 2.5, mk: 'c', ms: 3.2 },
];
const a3Series: Series[] = [
  dots(a3Aircraft, 2),
  greenBar(a3GreenBar),
  { data: a3Blue, color: BLUE, lw: 5, mk: 'n' },
  { data: a3Cyan, color: CYAN, lw: 5, mk: 'n' },
  { data: a3Red, color: RED, lw: 6, mk: 'n' },
  { data: a3Pink, color: PINK, lw: 2, mk: 'c', ms: 2.5 },
  { data: a3DarkRed, color: DARKRED, lw: 2, mk: 'c', ms: 2.8 },
  { data: a3Yellow, color: YELLOW, lw: 2.5, mk: 'c', ms: 2.8 },
];
const b1Series: Series[] = [
  dots(b1Aircraft, 1.9),
  greenBar(b1GreenBar),
  { data: b1Blue, color: BLUE, lw: 2, mk: 'c', ms: 3.5 },
  { data: b1Cyan, color: CYAN, lw: 2, mk: 'c', ms: 3.5 },
  { data: b1Red, color: RED, lw: 2, mk: 'c', ms: 3.5 },
  { data: b1Pink, color: PINK, lw: 2.5, mk: 'c', ms: 3.5 },
  { data: b1DarkRed, color: DARKRED, lw: 2.5, mk: 'c', ms: 3.5 },
  { data: b1Yellow, color: YELLOW, lw: 2.5, mk: 'c', ms: 4 },
  { data: b1YellowDash, color: YELLOW, lw: 2.5, mk: 'c', ms: 4, dash: '9 6', cap: 'butt' },
];
const b2Series: Series[] = [
  dots(b2Aircraft, 2),
  greenDots(b2GreenDots),
  greenBar(b2GreenBar),
  { data: b2Blue, color: BLUE, lw: 2, mk: 'c', ms: 3.5 },
  { data: b2Cyan, color: CYAN, lw: 2, mk: 'c', ms: 3.5 },
  { data: b2Red, color: RED, lw: 2, mk: 'c', ms: 3.2 },
  { data: b2Pink, color: PINK, lw: 2, mk: 'c', ms: 3.2 },
  { data: b2DarkRed, color: DARKRED, lw: 2.5, mk: 'c', ms: 3.5 },
  { data: b2Yellow, color: YELLOW, lw: 2.5, mk: 'c', ms: 4 },
];
const b3Series: Series[] = [
  dots(b3Aircraft, 2),
  greenBar(b3GreenBar),
  { data: b3Blue, color: BLUE, lw: 2, mk: 'c', ms: 3.5 },
  { data: b3Cyan, color: CYAN, lw: 2, mk: 'c', ms: 3.5 },
  { data: b3Red, color: RED, lw: 2, mk: 'c', ms: 3.5 },
  { data: b3Pink, color: PINK, lw: 2.5, mk: 'c', ms: 3.5 },
  { data: b3DarkRed, color: DARKRED, lw: 2.5, mk: 'c', ms: 3.5 },
  { data: b3Yellow, color: YELLOW, lw: 2.5, mk: 'c', ms: 4 },
];

const f1 = (v: number) => v.toFixed(1);
const f0 = (v: number) => String(v);

function Overlay() {
  const lt = { fontFamily: SANS, fontSize: 15, fill: '#000' } as const;
  const at = { fontFamily: SANS, fontSize: 16, fill: '#000' } as const;
  const vTitle = (x: number, y: number) => (
    <text x={x} y={y} transform={`rotate(-90 ${x} ${y})`} textAnchor="middle" {...at}>
      Altitude [km]
    </text>
  );
  const ext = (x: number, y: number) => (
    <text x={x} y={y} textAnchor="middle" {...at}>
      Aerosol extinction [km<tspan dy={-6} fontSize={10}>-1</tspan>
      <tspan dy={6}>]</tspan>
    </text>
  );
  const vmr = (x: number, y: number, sp: string) => (
    <text x={x} y={y} textAnchor="middle" {...at}>
      {sp}
      <tspan dy={4} fontSize={10}>2</tspan>
      <tspan dy={-4}> VMR [ppb]</tspan>
    </text>
  );
  return (
    <svg width={1109} height={694} style={{ position: 'absolute', left: 0, top: 0, pointerEvents: 'none' }}>
      {/* legend */}
      <circle cx={29} cy={21} r={3.5} fill="#000" />
      <text x={49} y={26} {...lt}>Aircraft</text>
      <line x1={101} y1={21} x2={136} y2={21} stroke={BLUE} strokeWidth={6} strokeLinecap="round" />
      <text x={138} y={26} {...lt}>Aver. aircraft</text>
      <line x1={228} y1={21} x2={263} y2={21} stroke={CYAN} strokeWidth={6} strokeLinecap="round" />
      <text x={266} y={26} {...lt}>
        Aver. aircraft <tspan fontSize={11}>×</tspan> AK
      </text>

      <line x1={12} y1={41} x2={48} y2={41} stroke={YELLOW} strokeWidth={2.5} />
      <circle cx={30} cy={41} r={3.5} fill={YELLOW} />
      <text x={51} y={46} {...lt}>
        (Aver. aircraft +in situ) <tspan fontSize={11}>×</tspan> AK
      </text>

      <line x1={13} y1={60} x2={46} y2={60} stroke={RED} strokeWidth={6} strokeLinecap="round" />
      <text x={49} y={65} {...lt}>Aver. MAX-DOAS</text>
      <line x1={173} y1={60} x2={208} y2={60} stroke={PINK} strokeWidth={2.5} />
      <rect x={188} y={57} width={6} height={6} fill={PINK} />
      <text x={210} y={65} {...lt}>Min. MAX-DOAS</text>
      <line x1={329} y1={60} x2={366} y2={60} stroke={DARKRED} strokeWidth={2.5} />
      <rect x={344} y={57} width={6} height={6} fill={DARKRED} />
      <text x={368} y={65} {...lt}>Max. MAX-DOAS</text>

      <rect x={26} y={76} width={6} height={6} fill={GREEN} />
      <text x={49} y={84} {...lt}>Visibility meter or in situ</text>

      {/* panel titles */}
      <text x={8} y={115} fontFamily={SERIF} fontSize={21.5} fill="#000">(a) 8 May 2016</text>
      <text x={12} y={428} fontFamily={SERIF} fontSize={22} fill="#000">(b) 21 May 2016</text>

      {/* axis titles */}
      {vTitle(43, 249)}
      {vTitle(422, 262)}
      {vTitle(784, 266)}
      {vTitle(47, 555)}
      {vTitle(416, 550)}
      {vTitle(781, 549)}
      {ext(214, 392)}
      {vmr(548, 390, 'NO')}
      {vmr(936, 390, 'SO')}
      {ext(239, 689)}
      {vmr(600, 687, 'NO')}
      {vmr(965, 684, 'SO')}
    </svg>
  );
}

export default function App() {
  return (
    <div
      style={{
        position: 'absolute',
        left: 0,
        top: 0,
        width: 1109,
        height: 694,
        overflow: 'hidden',
        background: '#fff',
        fontFamily: SANS,
      }}
    >
      <Panel left={83} top={142} w={292} h={217} xDomain={[0, 0.35]} xTicks={[0, 0.05, 0.1, 0.15, 0.2, 0.25, 0.3]}
        xMajor={[0, 0.1, 0.2, 0.3]} fmt={f1} xFont={24} yFont={20} series={a1Series} />
      <Panel left={458} top={151} w={260} h={206} xDomain={[0, 32]} xTicks={[0, 5, 10, 15, 20, 25, 30]}
        xMajor={[0, 10, 20, 30]} fmt={f0} xFont={17} yFont={16} series={a2Series} />
      <Panel left={813} top={151} w={285} h={207} xDomain={[0, 20]} xTicks={[0, 2.5, 5, 7.5, 10, 12.5, 15, 17.5, 20]}
        xMajor={[0, 5, 10, 15, 20]} fmt={f0} xFont={17} yFont={16} series={a3Series} />
      <Panel left={88} top={443} w={285} h={207} xDomain={[-0.05, 0.7]} xTicks={[0, 0.1, 0.2, 0.3, 0.4, 0.5, 0.6, 0.7]}
        xMajor={[0, 0.2, 0.4, 0.6]} fmt={f1} xFont={17} yFont={16} series={b1Series} />
      <Panel left={458} top={443} w={260} h={208} xDomain={[-2.5, 25]} xTicks={[-2.5, 0, 2.5, 5, 7.5, 10, 12.5, 15, 17.5, 20, 22.5, 25]}
        xMajor={[0, 5, 10, 15, 20, 25]} fmt={f0} xFont={17} yFont={16} series={b2Series} />
      <Panel left={818} top={442} w={287} h={206} xDomain={[0, 12.5]} xTicks={[0, 2.5, 5, 7.5, 10, 12.5]}
        xMajor={[0, 5, 10]} fmt={f0} xFont={17} yFont={16} series={b3Series} />
      <Overlay />
    </div>
  );
}
